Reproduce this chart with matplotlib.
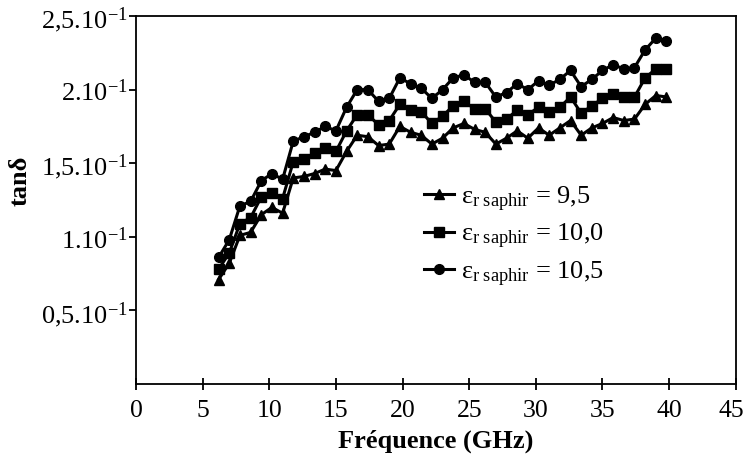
import matplotlib
matplotlib.use('Agg')
import matplotlib.pyplot as plt
from matplotlib.transforms import ScaledTranslation

# frequency (GHz)
freq = [6.2, 7.0, 7.8, 8.6, 9.4, 10.2, 11.0, 11.8, 12.6, 13.4, 14.2, 15.0,
        15.8, 16.6, 17.4, 18.2, 19.0, 19.8, 20.6, 21.4, 22.2, 23.0, 23.8,
        24.6, 25.4, 26.2, 27.0, 27.8, 28.6, 29.4, 30.2, 31.0, 31.8, 32.6,
        33.4, 34.2, 35.0, 35.8, 36.6, 37.4, 38.2, 39.0, 39.8]

# tan delta for the three sapphire permittivities
tan_95 = [0.071, 0.082, 0.101, 0.103, 0.115, 0.120, 0.116, 0.140, 0.141,
          0.143, 0.146, 0.145, 0.158, 0.169, 0.168, 0.162, 0.163, 0.175,
          0.171, 0.169, 0.163, 0.167, 0.174, 0.177, 0.173, 0.171, 0.163,
          0.167, 0.172, 0.167, 0.174, 0.169, 0.174, 0.179, 0.169, 0.174,
          0.177, 0.181, 0.179, 0.180, 0.190, 0.196, 0.195]
tan_100 = [0.078, 0.089, 0.109, 0.113, 0.127, 0.130, 0.126, 0.151, 0.153,
           0.157, 0.160, 0.158, 0.172, 0.183, 0.183, 0.176, 0.179, 0.190,
           0.186, 0.185, 0.177, 0.182, 0.189, 0.192, 0.187, 0.187, 0.178,
           0.180, 0.186, 0.183, 0.188, 0.185, 0.188, 0.195, 0.184, 0.189,
           0.194, 0.197, 0.195, 0.195, 0.208, 0.214, 0.214]
tan_105 = [0.086, 0.098, 0.121, 0.124, 0.138, 0.143, 0.139, 0.165, 0.168,
           0.171, 0.175, 0.172, 0.188, 0.200, 0.200, 0.192, 0.194, 0.208,
           0.204, 0.201, 0.194, 0.200, 0.208, 0.210, 0.205, 0.205, 0.195,
           0.198, 0.204, 0.200, 0.206, 0.203, 0.207, 0.213, 0.202, 0.207,
           0.213, 0.217, 0.214, 0.215, 0.227, 0.235, 0.233]

x_ticks = [0, 5, 10, 15, 20, 25, 30, 35, 40, 45]
y_ticks = [0.05, 0.10, 0.15, 0.20, 0.25]
y_labels = ['0,5.10$^{-1}$', '1.10$^{-1}$', '1,5.10$^{-1}$',
            '2.10$^{-1}$', '2,5.10$^{-1}$']

plt.rcParams['font.family'] = ['Liberation Serif', 'DejaVu Serif']
plt.rcParams['mathtext.fontset'] = 'custom'
plt.rcParams['mathtext.rm'] = 'Liberation Serif'
plt.rcParams['mathtext.it'] = 'Liberation Serif:italic'
plt.rcParams['mathtext.bf'] = 'Liberation Serif:bold'
plt.rcParams['mathtext.default'] = 'regular'

fig = plt.figure(figsize=(7.47, 4.60), dpi=100)
ax = fig.add_axes([0.182, 0.163, 0.803, 0.800])

series = [(tan_95, '^', '9,5'), (tan_100, 's', '10,0'), (tan_105, 'o', '10,5')]
for vals, mk, lab in series:
    ax.plot(freq, vals, color='k', lw=2.2, marker=mk, markersize=7,
            label='ε$_{r\\ saphir}$ = ' + lab)

ax.set_xlim(0, 45)
ax.set_ylim(0, 0.25)
ax.set_xticks(x_ticks)
ax.set_yticks(y_ticks)
ax.set_yticklabels(y_labels)
ax.tick_params(axis='x', direction='inout', length=8, width=1.3,
               labelsize=18.5, pad=7)
ax.tick_params(axis='y', direction='out', length=5, width=1.3,
               labelsize=19, pad=1)
for sp in ax.spines.values():
    sp.set_linewidth(1.3)

# nudge the last x label so it stays inside the figure
last = ax.xaxis.get_major_ticks()[-1].label1
last.set_transform(last.get_transform()
                   + ScaledTranslation(-0.04, 0, fig.dpi_scale_trans))

ax.set_xlabel('Fréquence (GHz)', fontsize=19, fontweight='bold', labelpad=5)
fig.text(20 / 747, 1 - 181 / 460, 'tanδ', fontsize=19, fontweight='bold',
         rotation=90, ha='center', va='center')

ax.legend(loc='upper left', bbox_to_anchor=(0.48, 0.545), frameon=False,
          fontsize=19, handlelength=1.15, handletextpad=0.25,
          labelspacing=0.33, borderpad=0, borderaxespad=0)

fig.savefig('out.png', dpi=100)
